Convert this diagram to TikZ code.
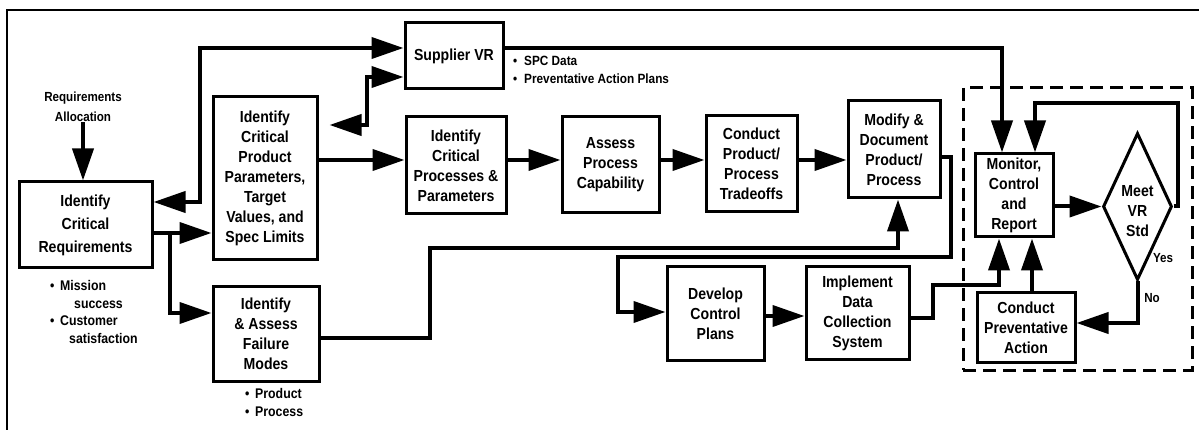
\documentclass[tikz,border=0pt]{standalone}
\usepackage{fontspec}
\setmainfont{Liberation Sans}[FakeStretch=0.88]
\usetikzlibrary{arrows.meta,calc,shapes.geometric}
\begin{document}
\begin{tikzpicture}[x=1pt,y=-1pt,
  box/.style={draw,line width=3pt,inner sep=1pt,align=center,
    font=\fontsize{16}{20}\selectfont\bfseries},
  conn/.style={line width=4pt,-{Triangle[length=32pt,width=21pt]}},
  twoway/.style={line width=4pt,
    {Triangle[length=32pt,width=21pt]}-{Triangle[length=32pt,width=21pt]}},
  note/.style={inner sep=0pt,align=left,font=\fontsize{14}{17.5}\selectfont\bfseries},
  small/.style={inner sep=0pt,align=center,font=\fontsize{13.2}{20}\selectfont\bfseries},
  dashbox/.style={draw,line width=3pt,dash pattern=on 13pt off 7pt},
]
\useasboundingbox (0,0) rectangle (1199,430);

% outer frame (top and left edges)
\draw[line width=2.5pt] (7,430) -- (7,10) -- (1199,10);

% process boxes
\node[box,minimum width=133,minimum height=86,font=\fontsize{16}{23}\selectfont\bfseries]
  (icr) at (85.5,225) {Identify\\Critical\\Requirements};
\node[box,minimum width=104,minimum height=163] (icpp) at (265,178.5)
  {Identify\\Critical\\Product\\Parameters,\\Target\\Values, and\\Spec Limits};
\node[box,minimum width=106,minimum height=94] (iafm) at (266,334)
  {Identify\\\& Assess\\Failure\\Modes};
\node[box,minimum width=98,minimum height=66] (svr) at (454,56) {Supplier VR};
\node[box,minimum width=100,minimum height=97] (icpr) at (456,165.5)
  {Identify\\Critical\\Processes \&\\Parameters};
\node[box,minimum width=97,minimum height=96] (apc) at (610.5,165)
  {Assess\\Process\\Capability};
\node[box,minimum width=91,minimum height=96] (cppt) at (751.5,164)
  {Conduct\\Product/\\Process\\Tradeoffs};
\node[box,minimum width=92,minimum height=97] (mdpp) at (894,149.5)
  {Modify \&\\Document\\Product/\\Process};
\node[box,minimum width=97,minimum height=93] (dcp) at (715.5,313.5)
  {Develop\\Control\\Plans};
\node[box,minimum width=103,minimum height=92] (idcs) at (857.5,313)
  {Implement\\Data\\Collection\\System};
\node[box,minimum width=78,minimum height=83] (mcr) at (1014,195.5)
  {Monitor,\\Control\\and\\Report};
\node[box,minimum width=98,minimum height=69] (cpa) at (1026,327.5)
  {Conduct\\Preventative\\Action};

% decision
\node[diamond,draw,line width=3pt,inner sep=0pt,minimum width=69,minimum height=147]
  (dia) at (1137.5,206.5) {};
\node[box,draw=none] (diatext) at ($(dia.center)+(0,5)$) {Meet\\VR\\Std};

% monitoring group
\node[dashbox,minimum width=229,minimum height=282] (grp) at (1077.5,229) {};

% free texts
\node[small] (ra) at (83,107) {Requirements\\Allocation};
\node[note,anchor=west] (icrnote) at (50,312)
  {\makebox[10pt][l]{\textbullet}Mission\\\hspace*{24pt}success\\
   \makebox[10pt][l]{\textbullet}Customer\\\hspace*{19pt}satisfaction};
\node[note,anchor=west,font=\fontsize{14}{18}\selectfont\bfseries] (iafmnote) at (245,402)
  {\makebox[10pt][l]{\textbullet}Product\\\makebox[10pt][l]{\textbullet}Process};
\node[note,anchor=west,font=\fontsize{13.4}{18}\selectfont\bfseries] (svrnote) at (513,70)
  {\makebox[11pt][l]{\textbullet}SPC Data\\\makebox[11pt][l]{\textbullet}Preventative Action Plans};
\node[small] (yes) at (1163,258) {Yes};
\node[small] (no) at (1152,298) {No};

% routing points
\coordinate (j1) at (170,233);
\coordinate (j2) at (170,313);
\coordinate (k1) at (200,48);
\coordinate (k2) at (200,202);
\coordinate (m1) at (367,77);
\coordinate (m2) at (367,125);
\coordinate (row) at (0,160);
\coordinate (s1) at (1002,48);
\coordinate (f1) at (430,338);
\coordinate (f2) at (430,248);
\coordinate (f3) at (898,248);
\coordinate (g1) at (951,157);
\coordinate (g2) at (951,257);
\coordinate (g3) at (618,257);
\coordinate (g4) at (618,312);
\coordinate (d1) at (0,316);
\coordinate (h1) at (933,318);
\coordinate (h2) at (933,285);
\coordinate (h3) at (999,285);
\coordinate (l1) at (1178,103);
\coordinate (l2) at (1035,103);
\coordinate (n1) at (0,323);
\coordinate (p1) at (1032,0);

% connectors
\draw[conn] (ra.south) -- (ra.south |- icr.north);
\draw[conn] (icr.east |- j1) -- (icpp.west |- j1);
\draw[conn] (j1) -- (j2) -- (iafm.west |- j2);
\draw[twoway] (svr.west |- k1) -- (k1) -- (k2) -- (icr.east |- k2);
\draw[twoway] (svr.west |- m1) -- (m1) -- (m2) -- ($(icpp.east |- m2)+(11,0)$);
\draw[conn] (icpp.east |- row) -- (icpr.west |- row);
\draw[conn] (icpr.east |- row) -- (apc.west |- row);
\draw[conn] (apc.east |- row) -- (cppt.west |- row);
\draw[conn] (cppt.east |- row) -- (mdpp.west |- row);
\draw[conn] (svr.east |- s1) -- (s1) -- (s1 |- mcr.north);
\draw[conn] (iafm.east |- f1) -- (f1) -- (f2) -- (f3) -- (f3 |- mdpp.south);
\draw[conn] (mdpp.east |- g1) -- (g1) -- (g2) -- (g3) -- (g4) -- (dcp.west |- g4);
\draw[conn] (dcp.east |- d1) -- (idcs.west |- d1);
\draw[conn] (idcs.east |- h1) -- (h1) -- (h2) -- (h3) -- (h3 |- mcr.south);
\draw[conn] (mcr.east |- dia.west) -- (dia.west);
\draw[conn] (dia.east) -- (dia.east -| l1) -- (l1) -- (l2) -- (l2 |- mcr.north);
\draw[conn] (dia.south) -- (dia.south |- n1) -- (cpa.east |- n1);
\draw[conn] (cpa.north -| p1) -- (p1 |- mcr.south);
\end{tikzpicture}
\end{document}
